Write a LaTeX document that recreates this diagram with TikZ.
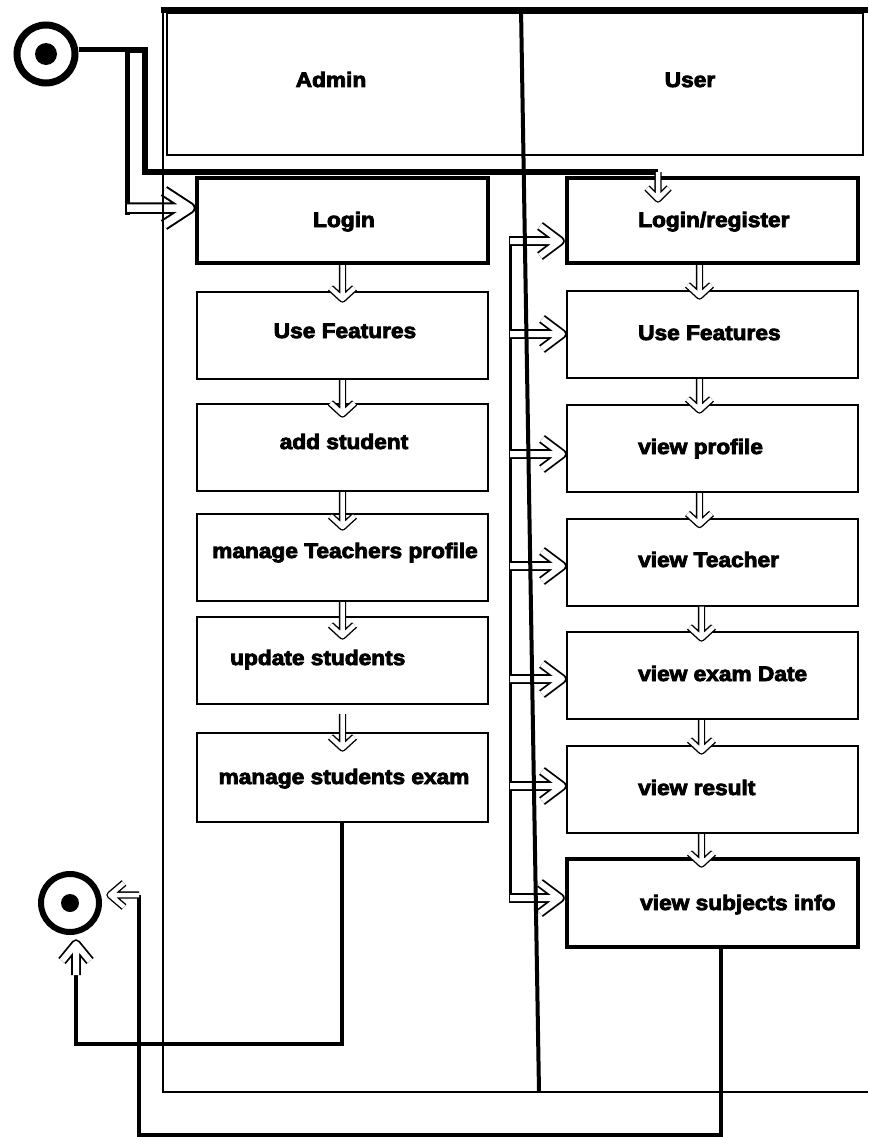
\documentclass[tikz,border=0pt]{standalone}
\usepackage{fontspec}
\setmainfont{Liberation Sans}
\newfontfamily\lblfont[UprightFont={* Bold}, FakeStretch=1.08, FakeBold=4]{Liberation Sans}
\usetikzlibrary{arrows.meta}
\begin{document}
\begin{tikzpicture}[x=1pt,y=-1pt,
  box/.style={draw, line width=2pt, minimum width=291pt, minimum height=87pt, inner sep=0pt},
  thickbox/.style={box, line width=4pt},
  lbl/.style={font=\lblfont\fontsize{21}{24}\selectfont, inner sep=0pt},
  vdbl/.style={double, double distance=4.5pt, line width=1.4pt, line join=round},
  hdbl/.style={double, double distance=6pt, line width=1.8pt, line join=round},
  sdbl/.style={double, double distance=7.5pt, line width=2pt, line join=round},
  conn/.style={line width=4pt},
  startline/.style={line width=5pt, line join=miter},
  frameline/.style={line width=2.5pt}]
\useasboundingbox (0,0) rectangle (868,1137);

% ---------- header ----------
\draw[line width=2pt] (167,13) rectangle (863,155);
\node[lbl, anchor=base] (hAdmin) at (331,87) {Admin};
\node[lbl, anchor=base] (hUser) at (690,87) {User};

% ---------- admin boxes ----------
\node[thickbox, minimum height=85pt] (aLogin) at (342.5,220.5) {};
\node[box] (aUse)  at (342.5,335.5) {};
\node[box] (aAdd)  at (342.5,447.5) {};
\node[box] (aManT) at (342.5,557.5) {};
\node[box] (aUpd)  at (342.5,660.5) {};
\node[box, minimum height=89pt] (aExam) at (342.5,777.5) {};

\node[lbl, anchor=base] (tALogin) at (344,227) {Login};
\node[lbl, anchor=base] (tAUse)   at (345,338) {Use Features};
\node[lbl, anchor=base] (tAAdd)   at (344,449) {add student};
\node[lbl, anchor=base] (tAManT)  at (345,558) {manage Teachers profile};
\node[lbl, anchor=base west] (tAUpd) at (230,665) {update students};
\node[lbl, anchor=base] (tAExam)  at (344,784) {manage students exam};

% ---------- user boxes ----------
\node[thickbox, minimum height=85pt] (uLogin) at (712.5,220.5) {};
\node[box] (uUse)   at (712.5,334.5) {};
\node[box] (uProf)  at (712.5,448.5) {};
\node[box] (uTeach) at (712.5,562) {};
\node[box] (uExam)  at (712.5,675.5) {};
\node[box] (uRes)   at (712.5,789.5) {};
\node[thickbox, minimum height=88pt] (uSubj) at (712.5,903) {};

\node[lbl, anchor=base west] (tULogin) at (638,227) {Login/register};
\node[lbl, anchor=base west] (tUUse)   at (638,340) {Use Features};
\node[lbl, anchor=base west] (tUProf)  at (638,454) {view profile};
\node[lbl, anchor=base west] (tUTeach) at (638,567) {view Teacher};
\node[lbl, anchor=base west] (tUExam)  at (638,681) {view exam Date};
\node[lbl, anchor=base west] (tURes)   at (638,795) {view result};
\node[lbl, anchor=base west] (tUSubj)  at (640,910) {view subjects info};

% ---------- start / end ----------
\node[draw, circle, line width=7pt, minimum size=58pt, inner sep=0pt] (start) at (46,54) {};
\node[fill, circle, minimum size=22pt, inner sep=0pt] (startdot) at (start.center) {};
\node[draw, circle, line width=6pt, minimum size=58pt, inner sep=0pt] (endc) at (70,903) {};
\node[fill, circle, minimum size=18pt, inner sep=0pt] (enddot) at (endc.center) {};

% ---------- coordinates ----------
\coordinate (s1) at (127,50);
\coordinate (s2) at (127,215);
\coordinate (sL) at (127,208);
\coordinate (s3) at (145,50);
\coordinate (s4) at (145,172);
\coordinate (b2) at (658,172);
\coordinate (ftop) at (510,236);
\coordinate (fbot) at (510,903);
\coordinate (f1) at (510,241);
\coordinate (f2) at (510,334);
\coordinate (f3) at (510,454);
\coordinate (f4) at (510,566);
\coordinate (f5) at (510,679);
\coordinate (f6) at (510,786);
\coordinate (f7) at (510,898);
\coordinate (e1) at (721,1135);
\coordinate (e2) at (139,1135);
\coordinate (e3) at (139,895);
\coordinate (m1) at (342,1044);
\coordinate (m2) at (76,1044);
\coordinate (m3) at (76,975);

% ---------- start connectors ----------
\draw[startline] (start.east |- s1) -- (s1) -- (s2);
\draw[sdbl] (sL) -- ([xshift=-5pt]sL -| aLogin.west) coordinate (tS)
   ++(-26,-17) -- (tS) -- ++(-26,17);
\draw[line width=6pt, line join=miter] (s1) -- (s3) -- (s4) -- (b2);
\draw[vdbl] (b2) -- ++(0,27) coordinate (tB) ++(-11,-11) -- (tB) -- ++(11,-11);

% ---------- admin flow ----------
\draw[vdbl] (aLogin.south) -- ([yshift=-8pt]aUse.north) coordinate (ta1) ++(-12,-11) -- (ta1) -- ++(12,-11);
\draw[vdbl] (aUse.south) -- ([yshift=-11pt]aAdd.north) coordinate (ta2) ++(-12,-11) -- (ta2) -- ++(12,-11);
\draw[vdbl] (aAdd.south) -- ([yshift=-14pt]aManT.north) coordinate (ta3) ++(-12,-11) -- (ta3) -- ++(12,-11);
\draw[vdbl] (aManT.south) -- ([yshift=-20pt]aUpd.north) coordinate (ta4) ++(-12,-11) -- (ta4) -- ++(12,-11);
\draw[vdbl] ([yshift=-9pt]aUpd.south) -- ([yshift=-16pt]aExam.north) coordinate (ta5) ++(-12,-11) -- (ta5) -- ++(12,-11);

% ---------- user flow ----------
\draw[vdbl] ([xshift=-13pt]uLogin.south) -- ([xshift=-13pt,yshift=-6pt]uUse.north) coordinate (tu1) ++(-12,-11) -- (tu1) -- ++(12,-11);
\draw[vdbl] ([xshift=-13pt]uUse.south) -- ([xshift=-13pt,yshift=-6pt]uProf.north) coordinate (tu2) ++(-12,-11) -- (tu2) -- ++(12,-11);
\draw[vdbl] ([xshift=-13pt]uProf.south) -- ([xshift=-13pt,yshift=-7pt]uTeach.north) coordinate (tu3) ++(-12,-11) -- (tu3) -- ++(12,-11);
\draw[vdbl] ([xshift=-11pt]uTeach.south) -- ([xshift=-11pt,yshift=-7pt]uExam.north) coordinate (tu4) ++(-12,-11) -- (tu4) -- ++(12,-11);
\draw[vdbl] ([xshift=-11pt]uExam.south) -- ([xshift=-11pt,yshift=-6pt]uRes.north) coordinate (tu5) ++(-12,-11) -- (tu5) -- ++(12,-11);
\draw[vdbl] ([xshift=-11pt]uRes.south) -- ([xshift=-11pt,yshift=-7pt]uSubj.north) coordinate (tu6) ++(-12,-11) -- (tu6) -- ++(12,-11);

% ---------- fork to user boxes ----------
\draw[line width=3pt] (ftop) -- (fbot);
\draw[hdbl] (f1) -- ([xshift=-5pt]f1 -| uLogin.west) coordinate (tf1) ++(-20,-15) -- (tf1) -- ++(-20,15);
\draw[hdbl] (f2) -- ([xshift=-4pt]f2 -| uUse.west) coordinate (tf2) ++(-20,-15) -- (tf2) -- ++(-20,15);
\draw[hdbl] (f3) -- ([xshift=-4pt]f3 -| uProf.west) coordinate (tf3) ++(-20,-15) -- (tf3) -- ++(-20,15);
\draw[hdbl] (f4) -- ([xshift=-4pt]f4 -| uTeach.west) coordinate (tf4) ++(-20,-15) -- (tf4) -- ++(-20,15);
\draw[hdbl] (f5) -- ([xshift=-4pt]f5 -| uExam.west) coordinate (tf5) ++(-20,-15) -- (tf5) -- ++(-20,15);
\draw[hdbl] (f6) -- ([xshift=-4pt]f6 -| uRes.west) coordinate (tf6) ++(-20,-15) -- (tf6) -- ++(-20,15);
\draw[hdbl] (f7) -- ([xshift=-5pt]f7 -| uSubj.west) coordinate (tf7) ++(-20,-15) -- (tf7) -- ++(-20,15);

% ---------- to end ----------
\draw[conn, line width=3.5pt] (uSubj.south -| e1) -- (e1) -- (e2) -- (e3);
\draw[vdbl] (e3) -- ([xshift=8pt]e3 -| endc.east) coordinate (te1) ++(14,-12) -- (te1) -- ++(14,12);
\draw[conn] (aExam.south -| m1) -- (m1) -- (m2) -- (m3);
\draw[hdbl] (m3) -- ([yshift=-9pt]m3 |- endc.south) coordinate (te2) ++(-14,17) -- (te2) -- ++(14,17);

% ---------- swimlane frame (on top) ----------
\draw[line width=6pt] (161,10) -- (868,10);
\draw[frameline] (163,8) -- (163,1092) -- (868,1092);
\draw[line width=4pt] (521,8) -- (539,1092);
\end{tikzpicture}
\end{document}
